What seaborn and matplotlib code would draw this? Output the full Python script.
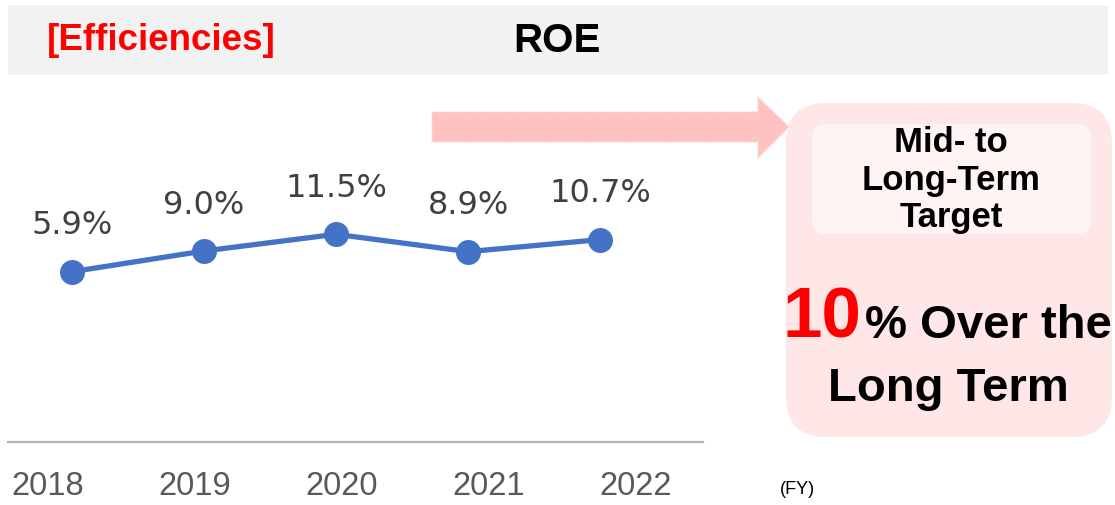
import matplotlib
matplotlib.use("Agg")
import matplotlib.pyplot as plt
from matplotlib.patches import Rectangle, FancyBboxPatch, Polygon
import seaborn as sns
import pandas as pd

sns.set_style("white")

# data
years = ["2018", "2019", "2020", "2021", "2022"]
roe = [5.9, 9.0, 11.5, 8.9, 10.7]
roe_labels = ["5.9%", "9.0%", "11.5%", "8.9%", "10.7%"]

df = pd.DataFrame({"idx": range(len(years)), "roe": roe})

fig = plt.figure(figsize=(11.15, 5.05), dpi=100)

# background layer in pixel coords
bg = fig.add_axes([0, 0, 1, 1], zorder=0)
bg.set_xlim(0, 1115)
bg.set_ylim(505, 0)
bg.axis("off")

# title band
bg.add_patch(Rectangle((8, 5), 1100, 70, color="#f2f2f2", lw=0))
bg.text(47, 40, "[Efficiencies]", color="#ff0000", fontsize=26.5, fontweight="bold",
        family="Liberation Sans", ha="left", va="center")
bg.text(557, 41, "ROE", color="black", fontsize=29, fontweight="bold",
        family="Liberation Sans", ha="center", va="center")

# arrow
arrow = Polygon([(432, 112), (758, 112), (758, 97), (789, 127),
                 (758, 158), (758, 142), (432, 142)],
                closed=True, facecolor="#ffc2c2", edgecolor="#ffd4d4",
                lw=1.2, ls=(0, (1, 1)))
bg.add_patch(arrow)

# target box
bg.add_patch(FancyBboxPatch((786 + 40, 103 + 40), 326 - 80, 334 - 80,
                            boxstyle="round,pad=40", facecolor="#ffe7e7",
                            edgecolor="none"))
bg.add_patch(FancyBboxPatch((812 + 14, 124 + 14), 279 - 28, 110 - 28,
                            boxstyle="round,pad=14", facecolor="#fff4f4",
                            edgecolor="none"))
for txt, yb in [("Mid- to", 152), ("Long-Term", 190), ("Target", 227)]:
    bg.text(951, yb, txt, fontsize=25, fontweight="bold", family="Liberation Sans",
            ha="center", va="baseline", color="black")
bg.text(861, 338, "10", fontsize=51, fontweight="bold", family="Liberation Sans",
        ha="right", va="baseline", color="#ff0000")
bg.text(865, 338, "% Over the", fontsize=34, fontweight="bold", family="Liberation Sans",
        ha="left", va="baseline", color="black")
bg.text(948, 401, "Long Term", fontsize=34, fontweight="bold", family="Liberation Sans",
        ha="center", va="baseline", color="black")

bg.text(797, 490, "(FY)", fontsize=13, family="Liberation Sans",
        ha="center", va="center", color="black")

# main chart
ax = fig.add_axes([8 / 1115, (505 - 442) / 505, 695 / 1115, 352 / 505], zorder=1)
ax.set_facecolor("none")
sns.lineplot(data=df, x="idx", y="roe", ax=ax, color="#4472c4", lw=3.8,
             marker="o", markersize=18, markeredgewidth=0)
for i, (v, lab) in enumerate(zip(roe, roe_labels)):
    ax.annotate(lab, (i, v), xytext=(0, 33), textcoords="offset points",
                ha="center", va="center", fontsize=23, color="#404040",
                family="DejaVu Sans")

ax.set_xlim(-0.485, 4.78)
ax.set_ylim(-19.6, 33.1)
ax.set_xticks([])
ax.set_yticks([])
ax.set_xlabel("")
ax.set_ylabel("")
for s in ["top", "left", "right"]:
    ax.spines[s].set_visible(False)
ax.spines["bottom"].set_color("#b4b4b4")
ax.spines["bottom"].set_linewidth(1.6)

# year labels (placed on their own category scale)
ax2 = ax.twiny()
ax2.set_xlim(-0.272, 4.456)
ax2.xaxis.set_ticks_position("bottom")
ax2.set_xticks(range(len(years)))
ax2.set_xticklabels(years, fontsize=23.5, color="#595959", family="Liberation Sans")
ax2.tick_params(axis="x", length=0, pad=21)
for s in ax2.spines.values():
    s.set_visible(False)

fig.savefig("out.png", dpi=100)
